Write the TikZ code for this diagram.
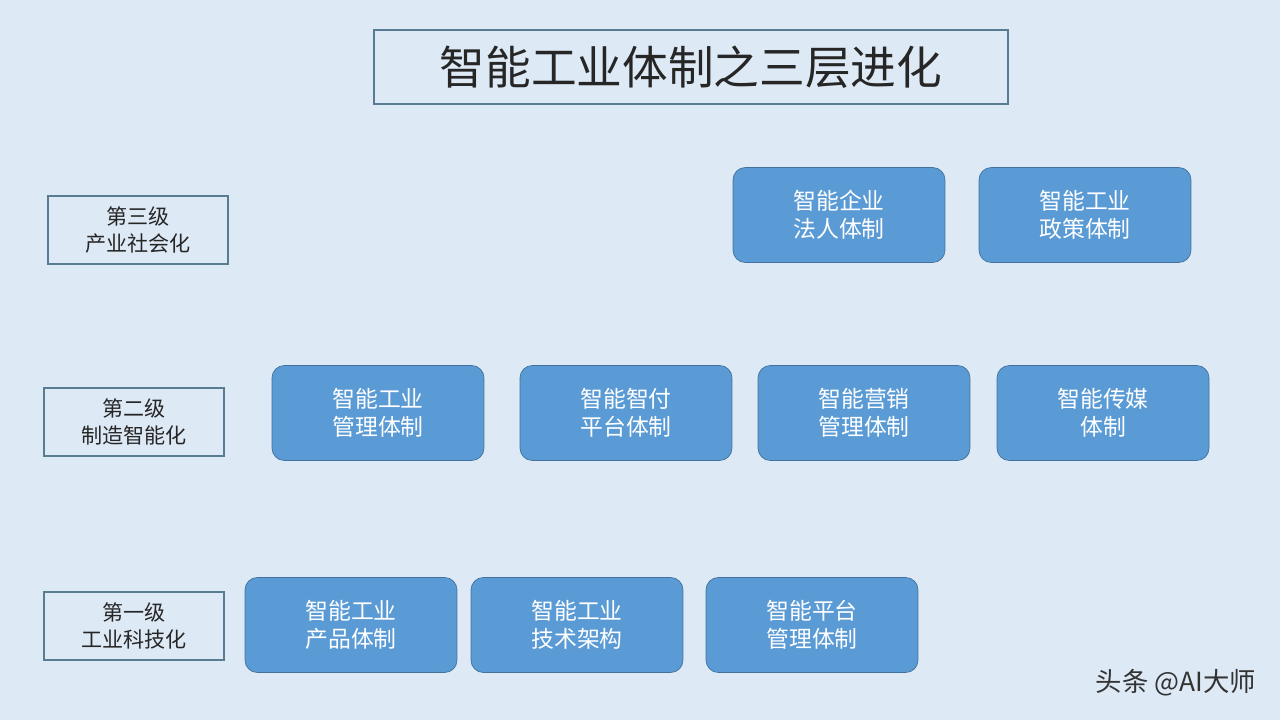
\documentclass[tikz,border=0pt]{standalone}
\usepackage{fontspec}
\setmainfont{Noto Sans CJK SC}
\usetikzlibrary{positioning}
\definecolor{bgblue}{HTML}{DEE9F6}
\definecolor{boxblue}{HTML}{5B9BD5}
\definecolor{boxline}{HTML}{41719C}
\definecolor{levelline}{HTML}{5A7C92}
\tikzset{%
  unitbox/.style={rectangle,rounded corners=7pt,fill=boxblue,draw=boxline,
    minimum width=4.24cm,minimum height=1.9cm,text=white,font=\fontsize{13}{16}\selectfont,
    align=center,inner sep=0pt},
  levelbox/.style={rectangle,draw=levelline,line width=1.2pt,fill=bgblue,
    minimum width=3.6cm,minimum height=1.36cm,align=center,inner sep=0pt,
    font=\fontsize{12}{15}\selectfont,text=black!85},
  titlebox/.style={rectangle,draw=levelline,line width=1.5pt,fill=bgblue,
    minimum width=12.68cm,minimum height=1.48cm,inner sep=0pt,
    font=\fontsize{26}{30}\selectfont,text=black!85}
}
\begin{document}
\begin{tikzpicture}[x=0.02cm,y=-0.02cm]
    \fill[bgblue] (0,0) rectangle (1280,720);
    \node[titlebox] (title) at (691,67) {智能工业体制之三层进化};
    % level labels
    \node[levelbox] (lvthree) at (138,230) {第三级\\产业社会化};
    \node[levelbox] (lvtwo) at (134,422) {第二级\\制造智能化};
    \node[levelbox] (lvone) at (134,626) {第一级\\工业科技化};
    % third level
    \node[unitbox] (legal) at (839,215) {智能企业\\法人体制};
    \node[unitbox] (policy) at (1085,215) {智能工业\\政策体制};
    % second level
    \node[unitbox] (manage) at (378,413) {智能工业\\管理体制};
    \node[unitbox] (pay) at (626,413) {智能智付\\平台体制};
    \node[unitbox] (market) at (864,413) {智能营销\\管理体制};
    \node[unitbox] (media) at (1103,413) {智能传媒\\体制};
    % first level
    \node[unitbox] (product) at (351,625) {智能工业\\产品体制};
    \node[unitbox] (tech) at (577,625) {智能工业\\技术架构};
    \node[unitbox] (platform) at (812,625) {智能平台\\管理体制};
    \node[anchor=east,font=\fontsize{15}{18}\selectfont,text=black!80] (mark) at (1262,683) {头条 @AI大师};
\end{tikzpicture}
\end{document}
